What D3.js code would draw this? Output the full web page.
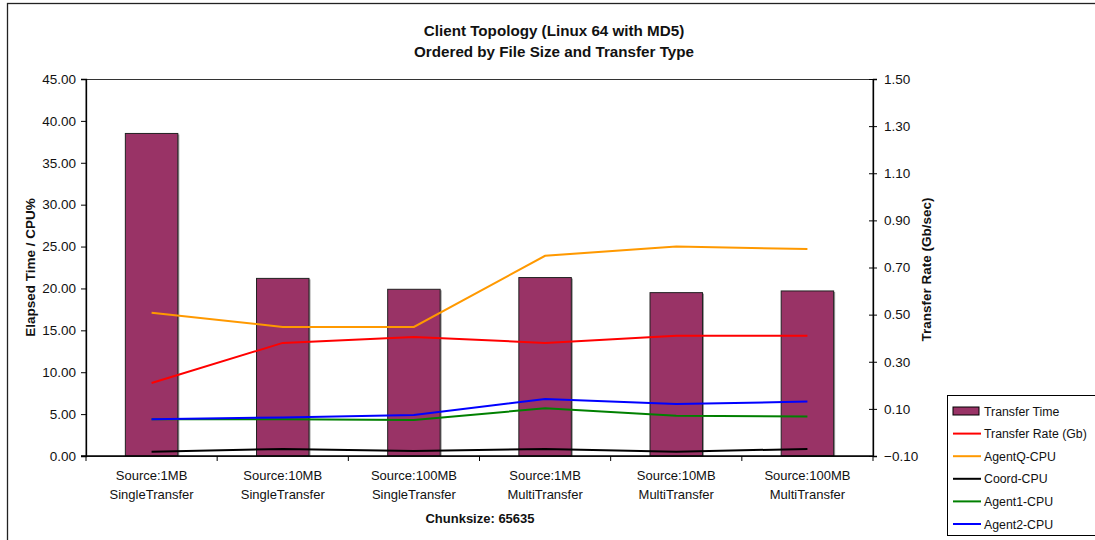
<!DOCTYPE html>
<html>
<head>
<meta charset="utf-8">
<script src="https://cdn.jsdelivr.net/npm/d3@7"></script>
<style>
  html, body { margin: 0; padding: 0; background: #fff; }
  svg { display: block; font-family: Arial, "Liberation Sans", sans-serif; }
</style>
</head>
<body>
<svg id="chart" width="1095" height="540"></svg>
<script>
// Categories (two-line labels)
const categories = [
  ["Source:1MB", "SingleTransfer"],
  ["Source:10MB", "SingleTransfer"],
  ["Source:100MB", "SingleTransfer"],
  ["Source:1MB", "MultiTransfer"],
  ["Source:10MB", "MultiTransfer"],
  ["Source:100MB", "MultiTransfer"]
];

// Bars (left axis)
const transferTime = [38.5, 21.2, 19.9, 21.3, 19.5, 19.7];
// Right axis (Gb/sec)
const transferRate = [0.21, 0.38, 0.405, 0.38, 0.41, 0.41];
// CPU lines (left axis)
const agentQCpu = [17.1, 15.4, 15.4, 23.9, 25.0, 24.7];
const coordCpu = [0.5, 0.85, 0.6, 0.85, 0.5, 0.85];
const agent1Cpu = [4.4, 4.4, 4.3, 5.7, 4.8, 4.7];
const agent2Cpu = [4.4, 4.6, 4.9, 6.8, 6.2, 6.5];

const leftTicks = [0, 5, 10, 15, 20, 25, 30, 35, 40, 45];
const rightTicks = [-0.10, 0.10, 0.30, 0.50, 0.70, 0.90, 1.10, 1.30, 1.50];

const svg = d3.select("#chart");
const plot = { left: 86, top: 79, right: 873, bottom: 456 };

// Chart frame
svg.append("rect").attr("x", 7.5).attr("y", 3.5).attr("width", 1100).attr("height", 560)
  .attr("fill", "#fff").attr("stroke", "#222").attr("stroke-width", 1.3);

const x = d3.scaleBand().domain(d3.range(categories.length))
  .range([plot.left, plot.right]).paddingInner(0.6).paddingOuter(0.3);
const xc = i => x(i) + x.bandwidth() / 2;
const yL = d3.scaleLinear().domain([0, 45]).range([plot.bottom, plot.top]);
const yR = d3.scaleLinear().domain([-0.1, 1.5]).range([plot.bottom, plot.top]);

// Plot area border
svg.append("rect").attr("x", plot.left).attr("y", plot.top + 0.5)
  .attr("width", plot.right - plot.left).attr("height", plot.bottom - plot.top)
  .attr("fill", "none").attr("stroke", "#333").attr("stroke-width", 1);

// Bars with a light shadow
const bars = svg.append("g");
bars.selectAll("rect.shadow").data(transferTime).join("rect")
  .attr("x", (d, i) => x(i) + 1.5).attr("y", d => yL(d) + 1)
  .attr("width", x.bandwidth()).attr("height", d => plot.bottom - yL(d) - 1)
  .attr("fill", "#9a9a9a");
bars.selectAll("rect.bar").data(transferTime).join("rect")
  .attr("x", (d, i) => x(i)).attr("y", d => yL(d))
  .attr("width", x.bandwidth()).attr("height", d => plot.bottom - yL(d))
  .attr("fill", "#993366").attr("stroke", "#222").attr("stroke-width", 1);

// Lines
const lineL = d3.line().x((d, i) => xc(i)).y(d => yL(d));
const lineR = d3.line().x((d, i) => xc(i)).y(d => yR(d));
const series = [
  { data: coordCpu, color: "#000000", gen: lineL },
  { data: agent1Cpu, color: "#008000", gen: lineL },
  { data: agent2Cpu, color: "#0000ff", gen: lineL },
  { data: agentQCpu, color: "#ff9900", gen: lineL },
  { data: transferRate, color: "#ff0000", gen: lineR }
];
series.forEach(s => {
  svg.append("path").attr("d", s.gen(s.data)).attr("fill", "none")
    .attr("stroke", s.color).attr("stroke-width", 2);
});

// Axes
const fmt = d3.format(".2f");
const axL = svg.append("g").attr("transform", `translate(${plot.left},0)`)
  .call(d3.axisLeft(yL).tickValues(leftTicks).tickFormat(fmt).tickSize(5).tickPadding(5));
const axR = svg.append("g").attr("transform", `translate(${plot.right},0)`)
  .call(d3.axisRight(yR).tickValues(rightTicks).tickFormat(fmt).tickSize(4).tickPadding(7));
axR.selectAll(".tick line").attr("x1", -4);
[axL, axR].forEach(a => {
  a.select(".domain").attr("stroke", "#000").attr("stroke-width", 1.3);
  a.selectAll(".tick line").attr("stroke", "#000");
  a.selectAll(".tick text").attr("font-size", 13.5).attr("fill", "#111")
    .attr("font-family", "Arial, 'Liberation Sans', sans-serif");
});

// Category axis
const step = (plot.right - plot.left) / categories.length;
const xAxisG = svg.append("g");
xAxisG.append("line").attr("x1", plot.left - 5).attr("x2", plot.right)
  .attr("y1", plot.bottom).attr("y2", plot.bottom).attr("stroke", "#000").attr("stroke-width", 1.3);
d3.range(categories.length + 1).forEach(i => {
  const tx = plot.left + i * step;
  xAxisG.append("line").attr("x1", tx).attr("x2", tx)
    .attr("y1", plot.bottom).attr("y2", plot.bottom + 5).attr("stroke", "#000");
});
categories.forEach((c, i) => {
  const t = xAxisG.append("text").attr("x", xc(i)).attr("text-anchor", "middle")
    .attr("font-size", 13).attr("fill", "#111");
  t.append("tspan").attr("x", xc(i)).attr("y", 480).text(c[0]);
  t.append("tspan").attr("x", xc(i)).attr("y", 499).text(c[1]);
});

// Titles
const title = svg.append("text").attr("text-anchor", "middle")
  .attr("font-size", 15.2).attr("font-weight", "bold").attr("fill", "#111");
title.append("tspan").attr("x", 554).attr("y", 36).text("Client Topology (Linux 64 with MD5)");
title.append("tspan").attr("x", 554).attr("y", 57).text("Ordered by File Size and Transfer Type");

svg.append("text").attr("x", 480).attr("y", 523).attr("text-anchor", "middle")
  .attr("font-size", 13).attr("font-weight", "bold").attr("fill", "#111").text("Chunksize: 65635");

svg.append("text").attr("transform", `translate(35,${(plot.top + plot.bottom) / 2}) rotate(-90)`)
  .attr("text-anchor", "middle").attr("font-size", 13.5).attr("font-weight", "bold").attr("fill", "#111")
  .text("Elapsed Time / CPU%");
svg.append("text").attr("transform", `translate(931,${(plot.top + plot.bottom) / 2 + 2}) rotate(-90)`)
  .attr("text-anchor", "middle").attr("font-size", 13.5).attr("font-weight", "bold").attr("fill", "#111")
  .text("Transfer Rate (Gb/sec)");

// Legend
const legendItems = [
  { name: "Transfer Time", color: "#993366", bar: true },
  { name: "Transfer Rate (Gb)", color: "#ff0000" },
  { name: "AgentQ-CPU", color: "#ff9900" },
  { name: "Coord-CPU", color: "#000000" },
  { name: "Agent1-CPU", color: "#008000" },
  { name: "Agent2-CPU", color: "#0000ff" }
];
const lg = svg.append("g");
lg.append("rect").attr("x", 947.5).attr("y", 395.5).attr("width", 148).attr("height", 140)
  .attr("fill", "#fff").attr("stroke", "#000").attr("stroke-width", 1);
legendItems.forEach((d, i) => {
  const cy = 411 + i * 22.6;
  if (d.bar) {
    lg.append("rect").attr("x", 953).attr("y", cy - 4).attr("width", 26).attr("height", 8)
      .attr("fill", d.color).attr("stroke", "#000").attr("stroke-width", 1);
  } else {
    lg.append("line").attr("x1", 953).attr("x2", 981).attr("y1", cy).attr("y2", cy)
      .attr("stroke", d.color).attr("stroke-width", 2);
  }
  lg.append("text").attr("x", 984).attr("y", cy + 4.5).attr("font-size", 12.3).attr("fill", "#111")
    .text(d.name);
});
</script>
</body>
</html>
